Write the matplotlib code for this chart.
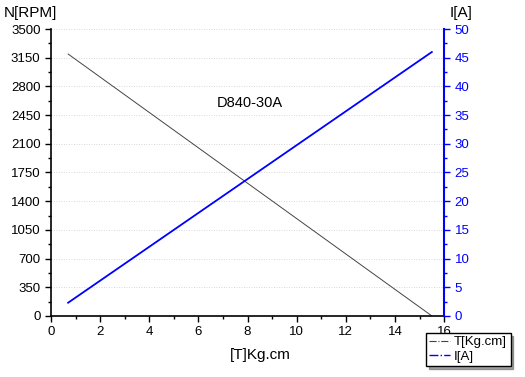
import matplotlib.pyplot as plt
from matplotlib.lines import Line2D
from matplotlib.ticker import MultipleLocator

plt.rcParams['font.family'] = ['Liberation Sans', 'DejaVu Sans']

torque = [0.7, 15.5]
speed = [3195, 0]
current = [2.3, 46.0]

fig = plt.figure(figsize=(5.25, 3.77), dpi=100)
ax = fig.add_axes([0.097, 0.162, 0.749, 0.761])
ax2 = ax.twinx()

ax.plot(torque, speed, color='#444444', lw=0.7)
ax2.plot(torque, current, color='blue', lw=1.3)

ax.set_xlim(0, 16)
ax.set_ylim(0, 3500)
ax2.set_ylim(0, 50)
ax.xaxis.set_major_locator(MultipleLocator(2))
ax.xaxis.set_minor_locator(MultipleLocator(1))
ax.yaxis.set_major_locator(MultipleLocator(350))
ax.yaxis.set_minor_locator(MultipleLocator(175))
ax2.yaxis.set_major_locator(MultipleLocator(5))
ax2.yaxis.set_minor_locator(MultipleLocator(2.5))

ax.grid(axis='y', color='#cccccc', ls=(0, (1, 2)), lw=0.6)

for a in (ax, ax2):
    a.spines['top'].set_visible(False)
ax.spines['right'].set_visible(False)
ax2.spines['left'].set_visible(False)
ax2.spines['bottom'].set_visible(False)
ax2.spines['right'].set_color('blue')
ax2.spines['right'].set_linewidth(1.5)
ax.spines['left'].set_linewidth(1.2)
ax.spines['bottom'].set_linewidth(1.2)

ax.tick_params(which='both', direction='out', labelsize=9.5, width=1)
ax.tick_params(which='major', length=4)
ax.tick_params(which='minor', length=2.5)
ax2.tick_params(which='both', direction='out', colors='blue', labelsize=9.5, width=1)
ax2.tick_params(which='major', length=4)
ax2.tick_params(which='minor', length=2.5)

fig.text(0.008, 0.965, 'N[RPM]', fontsize=11, va='center', ha='left')
fig.text(0.857, 0.965, 'I[A]', fontsize=11, va='center', ha='left')
fig.text(0.495, 0.058, '[T]Kg.cm', fontsize=11, va='center', ha='center')
ax.text(8.1, 2600, 'D840-30A', fontsize=10.5, ha='center', va='center')

handles = [Line2D([], [], color='#444444', ls='-.', lw=0.8),
           Line2D([], [], color='blue', ls='-.', lw=1)]
fig.legend(handles, ['T[Kg.cm]', 'I[A]'], loc='lower right',
           bbox_to_anchor=(0.985, 0.012), fontsize=9.5, frameon=True,
           fancybox=False, shadow=True, edgecolor='black',
           handlelength=1.6, borderpad=0.25, labelspacing=0.15, handletextpad=0.3)

fig.savefig('out.png', dpi=100)
